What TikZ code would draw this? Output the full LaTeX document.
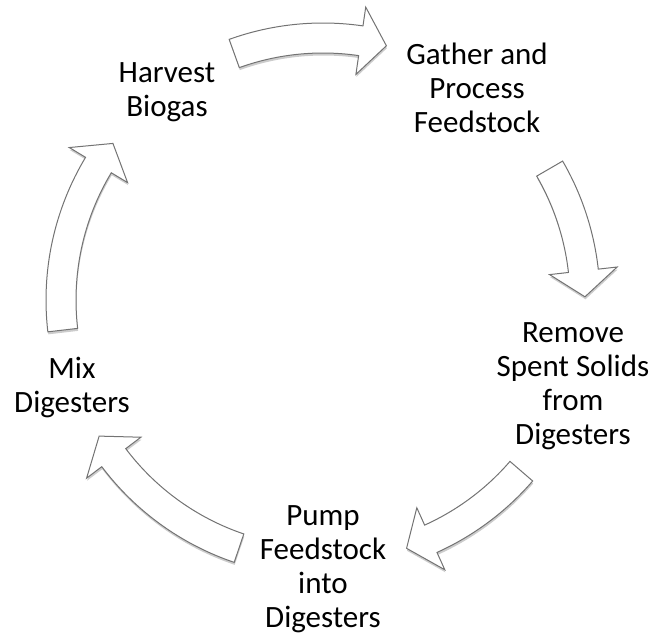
\documentclass[tikz,border=0pt]{standalone}
\usepackage{fontspec}
\setmainfont{Carlito}
\usetikzlibrary{shadows}

\tikzset{
  steplabel/.style={align=center, inner sep=0pt, font=\fontsize{31}{34}\selectfont},
  cyclearrow/.style={fill=white, draw=black!55, line width=1pt, line join=miter,
    drop shadow={shadow xshift=0.5pt, shadow yshift=-2.5pt, fill=black, opacity=0.2}}
}

\begin{document}
\begin{tikzpicture}[x=1pt, y=1pt]
		\useasboundingbox (-323,-334) rectangle (332,300);
		\coordinate (hub) at (0,0);

		% block arrows round the cycle: tail angle / tip angle
		\foreach \a/\b in {109.8/76.0, 30.1/0.7, -40.8/-71.4, 251.3/211.3, 186.6/143.3}
			\draw[cyclearrow] ({\a}:277) arc[start angle=\a, end angle=\b+5.7, radius=277]
				-- ({\b+5.7}:296) -- ({\b}:262) -- ({\b+5.7}:228) -- ({\b+5.7}:247)
				arc[start angle=\b+5.7, end angle=\a, radius=247] -- cycle;

		\node[steplabel] (harvest) at (-156,208) {Harvest\\Biogas};
		\node[steplabel] (gather) at (154,212) {Gather and\\Process\\Feedstock};
		\node[steplabel] (remove) at (250,-86) {Remove\\Spent Solids\\from\\Digesters};
		\node[steplabel] (pump) at (0,-269) {Pump\\Feedstock\\into\\Digesters};
		\node[steplabel] (mix) at (-251,-87) {Mix\\Digesters};
	\end{tikzpicture}
\end{document}
